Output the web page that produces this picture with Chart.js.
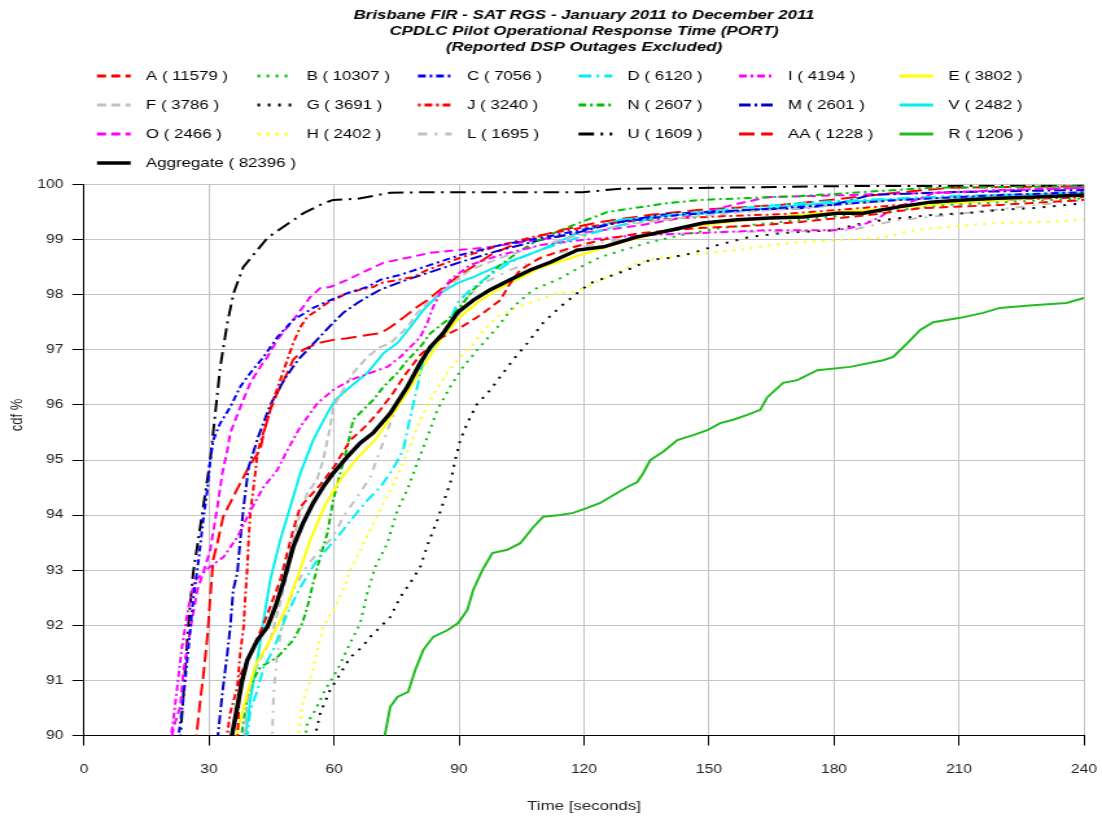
<!DOCTYPE html>
<html><head><meta charset="utf-8">
<script src="https://cdn.jsdelivr.net/npm/chart.js@4.4.0/dist/chart.umd.min.js"></script>
<style>html,body{margin:0;padding:0;background:#fff}canvas{display:block}</style>
</head><body>
<canvas id="c" width="850" height="821" style="width:1102px;height:821px"></canvas>
<script>
const titleLines = ['Brisbane FIR - SAT RGS - January 2011 to December 2011','CPDLC Pilot Operational Response Time (PORT)','(Reported DSP Outages Excluded)'];
const xTicks = [0,30,60,90,120,150,180,210,240];
const yTicks = [90,91,92,93,94,95,96,97,98,99,100];
const xTitle = 'Time [seconds]';
const yTitle = 'cdf %';
const seriesNames = ['A','B','C','D','I','E','F','G','J','N','M','V','O','H','L','U','AA','R','Aggregate'];
const seriesCounts = [11579,10307,7056,6120,4194,3802,3786,3691,3240,2607,2601,2482,2466,2402,1695,1609,1228,1206,82396];

const A = [[36.8,89.9],[37.5,91.1],[39.9,91.46],[43.5,92.1],[47.1,92.82],[50.2,93.73],[51.9,94.15],[56.7,94.55],[60.3,94.91],[63.9,95.36],[68.0,95.64],[71.1,95.91],[74.2,96.22],[77.1,96.55],[80.7,96.91],[85.5,97.21],[90.3,97.40],[95.1,97.63],[99.9,97.90],[102.3,98.21],[104.7,98.45],[109.5,98.67],[116.7,98.85],[123.9,98.99],[133.5,99.12],[147.9,99.21],[162.3,99.26],[171.9,99.32],[188.8,99.45],[200.7,99.57],[220,99.63],[240,99.72]];
const B = [[52.8,89.8],[53.6,90.23],[55.5,90.46],[57.9,90.83],[60.8,91.19],[63.9,91.68],[66.3,92.04],[68.0,92.59],[69.9,93.06],[72.8,93.49],[75.2,94.09],[77.6,94.46],[80.0,94.95],[82.4,95.42],[84.8,95.91],[87.9,96.33],[91.0,96.69],[94.4,97.0],[99.2,97.41],[103.0,97.78],[107.8,98.09],[113.6,98.27],[119.1,98.5],[123.9,98.68],[129.4,98.81],[135.2,98.94],[143.1,99.08],[152.7,99.21],[167.1,99.32],[183.9,99.45],[207.9,99.63],[240,99.75]];
const C = [[22.3,89.8],[22.7,90.0],[23.8,90.64],[25.0,91.55],[26.2,92.46],[27.5,93.19],[28.6,93.91],[29.6,94.46],[30.3,95.0],[31.0,95.36],[32.7,95.67],[35.1,95.96],[37.5,96.33],[39.9,96.58],[43.1,96.87],[46.4,97.23],[50.2,97.54],[55.0,97.76],[59.1,97.90],[63.2,98.03],[68.0,98.14],[71.1,98.27],[75.9,98.36],[83.1,98.54],[90.3,98.72],[99.9,98.90],[109.5,99.03],[119.1,99.17],[128.7,99.32],[143.1,99.45],[159.9,99.54],[179.1,99.63],[195.9,99.72],[220,99.81],[240,99.86]];
const D = [[38.8,89.9],[39.2,90.0],[39.9,90.45],[41.6,90.82],[43.1,91.24],[45.4,91.55],[48.8,92.22],[51.9,92.69],[55.9,93.18],[60.8,93.60],[64.7,93.97],[68.0,94.27],[71.1,94.51],[74.0,94.82],[76.6,95.18],[78.3,95.78],[80.0,96.33],[81.4,96.82],[84.8,97.18],[87.1,97.41],[89.6,97.85],[92.7,98.09],[96.8,98.32],[102.3,98.59],[109.5,98.81],[119.1,99.05],[128.7,99.26],[140.7,99.45],[157.5,99.57],[175.1,99.68],[207.8,99.79],[240,99.85]];
const I = [[20.5,89.8],[21.3,90.2],[22.4,90.9],[23.5,91.6],[25.0,92.3],[26.5,92.8],[30.0,93.05],[33.5,93.24],[36.8,93.6],[40.0,94.09],[43.0,94.5],[46.4,94.82],[48.8,95.18],[51.9,95.6],[56.0,96.03],[59.8,96.27],[63.9,96.45],[68.7,96.58],[72.8,96.69],[75.9,96.87],[78.3,97.05],[80.7,97.23],[82.4,97.49],[83.8,97.78],[85.5,98.03],[87.9,98.27],[92.7,98.54],[99.9,98.72],[109.5,98.90],[119.1,98.99],[133.5,99.08],[147.9,99.12],[163.9,99.17],[179.8,99.17],[183.9,99.21],[188,99.30],[191.1,99.41],[194.2,99.57],[197.6,99.66],[203.8,99.84],[219.8,99.90],[240,99.94]];
const E = [[36.2,89.8],[36.6,90.0],[38.7,90.64],[41.1,91.27],[44.7,91.73],[48.3,92.28],[51.4,92.91],[54.3,93.55],[57.9,94.19],[61.5,94.64],[65.6,95.04],[69.9,95.37],[74.0,95.82],[78.3,96.31],[81.9,96.76],[85.5,97.18],[90.3,97.60],[95.1,97.90],[99.9,98.12],[109.5,98.49],[119.1,98.72],[131.1,98.99],[143.1,99.21],[155.1,99.32],[171.9,99.45],[188.7,99.54],[207.9,99.66],[240,99.81]];
const F = [[38.2,89.8],[39.2,90.63],[40.6,91.13],[42.8,91.46],[44.7,91.73],[47.1,92.41],[48.8,92.95],[49.5,93.37],[51.9,94.04],[53.6,94.40],[55.9,94.64],[57.4,95.0],[59.1,95.60],[59.8,95.96],[62.2,96.27],[64.6,96.58],[68.0,96.87],[71.1,97.05],[73.5,97.12],[77.6,97.41],[80.0,97.67],[83.1,97.90],[87.9,98.18],[92.7,98.45],[99.9,98.67],[109.5,98.90],[119.1,99.08],[128.7,99.26],[143.1,99.39],[157.5,99.50],[171.9,99.57],[195.9,99.72],[240,99.86]];
const G = [[55.1,89.8],[55.5,90.0],[56.7,90.41],[59.1,90.83],[61.0,91.06],[63.9,91.42],[66.8,91.61],[68.7,91.79],[71.1,91.97],[73.5,92.15],[75.9,92.51],[78.3,92.77],[80.7,93.06],[82.6,93.49],[84.8,93.91],[86.2,94.22],[87.9,94.58],[89.1,95.0],[90.3,95.36],[92.0,95.67],[94.2,96.0],[97.5,96.27],[99.9,96.51],[103.0,96.82],[106.4,97.12],[110.2,97.49],[114.3,97.78],[118.4,98.03],[121.5,98.21],[125.6,98.32],[130.4,98.45],[135.9,98.63],[140.7,98.67],[146.2,98.76],[152.0,98.90],[159.9,99.05],[167.8,99.12],[179.8,99.17],[188.0,99.32],[195.9,99.39],[203.8,99.45],[211.9,99.48],[219.8,99.54],[227.6,99.57],[240,99.66]];
const J = [[34.0,89.8],[34.4,90.04],[35.1,90.41],[36.8,90.88],[37.5,91.50],[38.3,91.97],[38.7,92.51],[39.2,93.06],[39.5,93.55],[39.9,94.04],[40.4,94.33],[41.1,94.76],[41.6,95.13],[42.3,95.31],[44.0,95.73],[45.4,96.09],[47.1,96.45],[48.8,96.82],[50.2,97.12],[51.9,97.41],[53.6,97.60],[56.0,97.72],[58.4,97.85],[59.8,97.90],[63.2,98.03],[66.3,98.09],[69.4,98.14],[71.1,98.21],[79.0,98.32],[82.4,98.45],[90.3,98.67],[99.9,98.90],[109.5,99.08],[119.1,99.21],[128.7,99.32],[143.1,99.39],[155.1,99.43],[167.1,99.46],[181.5,99.54],[195.9,99.63],[220,99.72],[240,99.77]];
const N = [[37.6,89.8],[37.8,90.0],[39.2,90.69],[40.6,91.01],[42.3,91.24],[46.4,91.42],[50.2,91.73],[52.4,92.04],[53.6,92.33],[55.0,92.77],[56.7,93.24],[58.4,93.67],[59.8,94.27],[61.5,94.76],[63.2,95.24],[64.6,95.73],[67.0,95.91],[69.4,96.09],[71.9,96.33],[75.2,96.58],[77.6,96.81],[80.7,97.05],[83.1,97.30],[87.2,97.54],[90.3,97.78],[93.4,98.09],[96.8,98.32],[99.9,98.54],[104.0,98.76],[107.8,98.94],[114.3,99.17],[120.8,99.36],[125.6,99.50],[131.8,99.57],[139.9,99.66],[147.9,99.72],[171.9,99.79],[203.1,99.94],[240,99.97]];
const M = [[31.8,89.9],[32.2,90.04],[33.2,90.77],[34.4,91.50],[35.1,91.97],[35.8,92.64],[36.8,92.95],[37.5,93.55],[38.3,94.15],[39.5,94.87],[41.8,95.42],[44.7,96.00],[48.3,96.49],[51.4,96.82],[54.3,97.05],[57.4,97.30],[59.8,97.49],[62.2,97.67],[65.6,97.85],[68.7,97.99],[71.1,98.09],[75.9,98.23],[83.1,98.41],[90.3,98.59],[99.9,98.81],[109.5,98.99],[119.1,99.14],[128.7,99.32],[138.3,99.45],[147.9,99.50],[159.9,99.54],[171.9,99.57],[179.8,99.63],[188.8,99.81],[207.9,99.86],[240,99.90]];
const V = [[38.5,89.9],[38.8,90.0],[39.9,90.65],[41.6,91.37],[43.1,92.1],[44.7,92.82],[47.1,93.55],[49.5,94.15],[51.9,94.76],[55.0,95.36],[58.4,95.85],[60.3,96.09],[63.9,96.33],[68.0,96.58],[71.9,96.94],[75.2,97.12],[78.3,97.41],[81.4,97.72],[85.5,98.03],[89.6,98.21],[93.4,98.32],[100,98.54],[109.5,98.81],[119.1,99.14],[128.7,99.36],[143.1,99.45],[155.1,99.5],[171.9,99.63],[191.1,99.72],[220,99.79],[240,99.85]];
const O = [[20.7,89.8],[21.5,90.15],[23.1,90.52],[23.8,91.13],[25.6,91.97],[27.2,92.64],[28.6,92.95],[30.3,93.37],[32.0,94.15],[33.2,94.76],[34.4,95.18],[35.1,95.49],[37.5,95.96],[39.9,96.40],[42.3,96.69],[44.0,96.87],[46.4,97.18],[48.8,97.41],[50.2,97.54],[52.6,97.78],[54.3,97.96],[56.7,98.12],[59.1,98.14],[63.2,98.27],[67.0,98.41],[71.9,98.58],[77.6,98.67],[83.1,98.76],[89.6,98.81],[95.9,98.85],[104.0,98.94],[111.9,99.03],[121.5,99.14],[133.5,99.26],[143.1,99.39],[155.8,99.63],[163.9,99.77],[183.9,99.81],[207.9,99.86],[240,99.94]];
const H = [[51.2,89.8],[51.4,90.0],[52.6,90.64],[54.3,91.0],[56.0,91.55],[57.4,91.97],[59.8,92.28],[62.2,92.64],[63.9,93.0],[66.3,93.37],[68.7,93.73],[71.1,94.09],[73.5,94.46],[75.9,94.82],[78.3,95.27],[80.7,95.73],[83.8,96.18],[87.2,96.58],[90.3,96.87],[92.7,97.03],[95.9,97.36],[99.2,97.60],[104.0,97.78],[108.8,97.90],[113.6,98.03],[117.4,98.05],[120.8,98.14],[125.6,98.32],[132.8,98.58],[138.3,98.67],[144.8,98.72],[151.0,98.77],[156.8,98.81],[164.7,98.90],[172.6,98.96],[180.8,98.99],[191.2,99.03],[199.1,99.17],[211.1,99.26],[219.2,99.30],[231.2,99.32],[240,99.37]];
const L = [[44.5,89.8],[45.2,90.05],[45.5,90.77],[46.4,91.50],[47.8,92.10],[50.2,92.64],[53.6,93.09],[56.7,93.37],[59.8,93.60],[62.2,93.97],[65.6,94.33],[68.7,94.69],[71.1,95.18],[73.5,95.67],[75.9,96.09],[78.3,96.45],[80.7,96.69],[83.1,97.0],[86.7,97.36],[90.3,97.82],[95.1,98.18],[102.3,98.45],[111.9,98.72],[123.9,98.94],[135.9,99.08],[152.7,99.14],[171.9,99.15],[183.9,99.17],[195.0,99.35],[207.9,99.45],[240,99.72]];
const U = [[22.8,89.8],[23.2,90.04],[25.0,91.97],[26.2,92.95],[28.4,94.04],[30.3,95.0],[31.5,95.85],[32.7,96.69],[34.4,97.49],[35.9,98.03],[38.2,98.5],[41.6,98.81],[44.0,99.03],[47.8,99.23],[52.7,99.48],[57.5,99.66],[59.8,99.72],[65.6,99.74],[73.5,99.85],[82.4,99.86],[119.8,99.86],[128,99.92],[162.3,99.95],[180.8,99.97],[240,99.98]];
const AA = [[26.7,89.8],[27.2,90.15],[27.9,90.64],[28.6,91.06],[29.6,91.79],[30.3,92.51],[31.0,93.19],[32.0,93.49],[33.4,93.97],[35.8,94.33],[37.5,94.58],[39.2,94.82],[40.6,95.0],[42.3,95.18],[43.1,95.49],[44.7,95.91],[46.4,96.22],[48.8,96.58],[50.2,96.82],[52.6,97.0],[56.0,97.12],[59.8,97.18],[63.2,97.21],[68.0,97.27],[71.1,97.30],[73.5,97.41],[76.6,97.58],[80.0,97.78],[82.4,97.90],[85.5,98.09],[90.3,98.36],[97.5,98.72],[104.7,98.96],[114.3,99.17],[123.9,99.32],[135.9,99.45],[147.9,99.54],[167.1,99.63],[179.1,99.72],[195.9,99.86],[207.9,99.94],[240,99.97]];
const R = [[71.9,89.9],[72.3,90.05],[73.5,90.52],[75.2,90.70],[77.8,90.79],[79.5,91.19],[81.4,91.55],[83.8,91.79],[87.2,91.91],[89.8,92.04],[92.0,92.28],[93.4,92.64],[95.6,93.0],[98.0,93.31],[101.6,93.37],[104.7,93.49],[107.8,93.78],[110.2,93.97],[114.3,94.00],[117.4,94.04],[120.8,94.13],[123.9,94.22],[127.0,94.36],[130.4,94.51],[132.8,94.60],[134.2,94.76],[135.9,95.0],[139.0,95.15],[142.4,95.36],[146.2,95.45],[149.6,95.54],[152.7,95.67],[155.8,95.73],[159.2,95.82],[162.3,95.91],[164.0,96.14],[167.8,96.40],[171.2,96.45],[176.0,96.63],[183.9,96.69],[191.8,96.81],[194.2,96.87],[197.6,97.12],[200.7,97.36],[203.8,97.50],[210.3,97.58],[215.8,97.67],[219.8,97.76],[227.7,97.81],[235.8,97.85],[240,97.94]];
const Aggregate = [[35.2,89.9],[35.6,90.04],[36.8,90.52],[38.0,91.01],[39.2,91.37],[41.6,91.73],[44.0,91.97],[45.9,92.33],[47.8,92.77],[50.2,93.42],[52.6,93.86],[55.0,94.22],[57.4,94.51],[59.8,94.76],[63.2,95.06],[66.3,95.31],[69.4,95.49],[73.5,95.85],[77.6,96.33],[80.7,96.76],[83.1,97.05],[86.2,97.30],[89.6,97.67],[93.4,97.90],[97.5,98.09],[102.3,98.27],[107.1,98.45],[111.9,98.59],[118.4,98.81],[124.7,98.87],[132.8,99.05],[140.7,99.17],[148.6,99.30],[156.8,99.36],[164.7,99.39],[172.6,99.41],[180.8,99.48],[187.0,99.48],[195.2,99.59],[203.1,99.68],[211.0,99.72],[219.2,99.75],[227.1,99.77],[240,99.81]];

const seriesData = [A,B,C,D,I,E,F,G,J,N,M,V,O,H,L,U,AA,R,Aggregate];
const styles = [
  {c:'#ff0000', d:[7,4]},
  {c:'#00c000', d:[2,5]},
  {c:'#0000ff', d:[6,3,2,3]},
  {c:'#00f0f0', d:[10,4,2,4]},
  {c:'#ff00ff', d:[6,3,2,3]},
  {c:'#ffff00', d:[]},
  {c:'#c0c0c0', d:[7,4]},
  {c:'#000000', d:[2,6]},
  {c:'#ff0000', d:[2,3,6,3]},
  {c:'#00c000', d:[6,3,2,3]},
  {c:'#0000cc', d:[9,3,2,3]},
  {c:'#00f0f0', d:[]},
  {c:'#ff00ff', d:[7,4]},
  {c:'#ffff00', d:[2,5]},
  {c:'#c0c0c0', d:[7,6,2,6]},
  {c:'#000000', d:[12,5,2,5]},
  {c:'#ff0000', d:[12,5]},
  {c:'#22bb22', d:[]},
  {c:'#000000', d:[], w:3.5}
];

const datasets = seriesNames.map((n, i) => ({
  label: n + ' ( ' + seriesCounts[i] + ' )',
  data: seriesData[i],
  borderColor: styles[i].c,
  backgroundColor: styles[i].c,
  borderDash: styles[i].d,
  borderWidth: styles[i].w || 2,
  pointRadius: 0,
  tension: 0,
  fill: false,
  order: n === 'Aggregate' ? -1 : i
}));

const FONT = '"Liberation Sans", Arial, Helvetica, sans-serif';

const gridLegend = {
  id: 'gridLegend',
  afterDraw(chart) {
    const ctx = chart.ctx;
    ctx.save();
    ctx.font = '13px ' + FONT;
    ctx.textBaseline = 'middle';
    ctx.textAlign = 'left';
    chart.data.datasets.forEach((ds, i) => {
      const col = i % 6, row = Math.floor(i / 6);
      const x0 = 74.8 + col * 123.8, y = 76 + row * 29;
      ctx.beginPath();
      ctx.strokeStyle = ds.borderColor;
      ctx.lineWidth = ds.borderWidth > 2 ? 3.5 : 3;
      ctx.setLineDash(ds.borderDash || []);
      ctx.moveTo(x0, y);
      ctx.lineTo(x0 + 26, y);
      ctx.stroke();
      ctx.setLineDash([]);
      ctx.fillStyle = '#000';
      ctx.fillText(ds.label, x0 + 37.8, y);
    });
    // y axis title, placed like the reference (slightly above the plot middle)
    ctx.translate(13.9, 415);
    ctx.rotate(-Math.PI / 2);
    ctx.textAlign = 'center';
    ctx.fillStyle = '#222';
    ctx.font = '13px ' + FONT;
    ctx.fillText(yTitle, 0, 0);
    ctx.restore();
  }
};

new Chart(document.getElementById('c'), {
  type: 'line',
  data: { datasets },
  plugins: [gridLegend],
  options: {
    responsive: false,
    animation: false,
    devicePixelRatio: 1,
    layout: { padding: { top: 0, right: 13.9, bottom: 0, left: 0 } },
    plugins: {
      legend: { display: false },
      tooltip: { enabled: false },
      title: {
        display: true,
        fullSize: false,
        text: titleLines,
        color: '#000',
        font: { family: FONT, size: 13, weight: 'bold', style: 'italic', lineHeight: 16/13 },
        padding: { top: 7, bottom: 129.5 }
      }
    },
    scales: {
      x: {
        type: 'linear',
        min: xTicks[0], max: xTicks[xTicks.length - 1],
        afterBuildTicks: s => { s.ticks = xTicks.map(v => ({ value: v })); },
        afterFit: s => { s.height = 85.5; s.paddingLeft = 0; s.paddingRight = 0; },
        grid: { color: '#c4c4c4', lineWidth: 1, tickColor: '#000', tickLength: 10, drawTicks: true },
        border: { color: '#000', width: 1 },
        ticks: { color: '#222', font: { family: FONT, size: 12 }, padding: 17, maxRotation: 0 },
        title: { display: true, text: xTitle, color: '#222', font: { family: FONT, size: 13 }, padding: { top: 0, bottom: 7.2 } }
      },
      y: {
        type: 'linear',
        min: yTicks[0], max: yTicks[yTicks.length - 1],
        afterBuildTicks: s => { s.ticks = yTicks.map(v => ({ value: v })); },
        afterFit: s => { s.width = 64.8; },
        grid: { color: '#c4c4c4', lineWidth: 1, tickColor: '#000', tickLength: 9, drawTicks: true },
        border: { color: '#000', width: 1 },
        ticks: { color: '#222', font: { family: FONT, size: 12 }, padding: 7 },
        title: { display: false, text: yTitle }
      }
    }
  }
});
</script>
</body></html>
